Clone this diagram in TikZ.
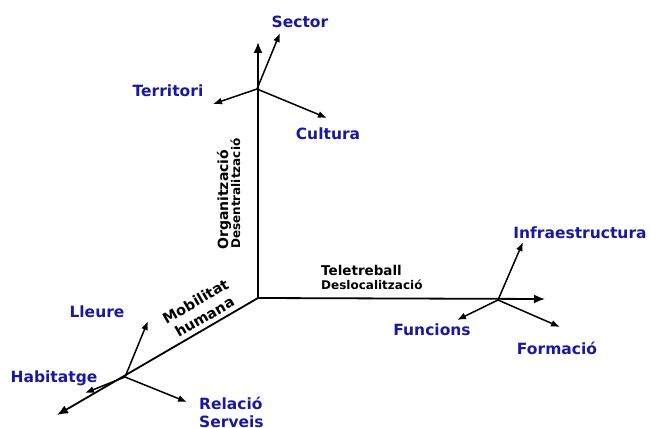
\documentclass[tikz,border=0pt]{standalone}
\usepackage{fontspec}
\setmainfont{DejaVu Sans}
\definecolor{labelBlue}{RGB}{25, 25, 160}
\usetikzlibrary{arrows.meta,positioning}

\begin{document}
\begin{tikzpicture}[x=1pt, y=-1pt,
    axis/.style={-{Latex[length=11pt,width=9pt]}, line width=1.8pt},
    factor/.style={-{Latex[length=9pt,width=7pt]}, line width=1.5pt},
    bluelabel/.style={font=\bfseries\fontsize{15.5}{18}\selectfont, text=labelBlue, inner sep=0pt},
    axislabel/.style={font=\bfseries\fontsize{12}{14}\selectfont, inner sep=0pt}]
    \useasboundingbox (0,0) rectangle (651,428);

    % main axes
    \coordinate (origin) at (258,298);
    \coordinate (upTip) at (258,42);
    \coordinate (rightTip) at (545,299);
    \coordinate (diagTip) at (57,415);
    \draw[axis] (origin) -- (upTip);
    \draw[axis] (origin) -- (rightTip);
    \draw[axis] (origin) -- (diagTip);

    % top frame
    \coordinate (topC) at (257,89);
    \coordinate (sectorTip) at (280,33);
    \coordinate (territoriTip) at (213,104);
    \coordinate (culturaTip) at (327,118);
    \node[bluelabel] (sector) at (300,22) {Sector};
    \node[bluelabel] (territori) at (168,91) {Territori};
    \node[bluelabel] (cultura) at (328,134) {Cultura};
    \draw[factor] (topC) -- (sectorTip);
    \draw[factor] (topC) -- (territoriTip);
    \draw[factor] (topC) -- (culturaTip);

    % right frame
    \coordinate (rightC) at (498,300);
    \coordinate (infraTip) at (523,242);
    \coordinate (funcionsTip) at (457,320);
    \coordinate (formacioTip) at (560,327);
    \node[bluelabel] (infra) at (580,233) {Infraestructura};
    \node[bluelabel] (funcions) at (432,330) {Funcions};
    \node[bluelabel] (formacio) at (557,348) {Formació};
    \draw[factor] (rightC) -- (infraTip);
    \draw[factor] (rightC) -- (funcionsTip);
    \draw[factor] (rightC) -- (formacioTip);

    % bottom-left frame
    \coordinate (leftC) at (125,377);
    \coordinate (lleureTip) at (148,321);
    \coordinate (habitatgeTip) at (85,393);
    \coordinate (relacioTip) at (187,402);
    \node[bluelabel] (lleure) at (97,312) {Lleure};
    \node[bluelabel] (habitatge) at (54,378) {Habitatge};
    \node[bluelabel, align=left, anchor=north west] (relacio) at (199,397) {Relació\\Serveis};
    \draw[factor] (leftC) -- (lleureTip);
    \draw[factor] (leftC) -- (habitatgeTip);
    \draw[factor] (leftC) -- (relacioTip);

    % axis labels
    \node[axislabel, font=\bfseries\fontsize{14}{16}\selectfont, rotate=90, anchor=base west] (organitzacio) at (228,250) {Organització};
    \node[axislabel, rotate=90, anchor=base west] (desentral) at (240,249) {Desentralització};
    \node[axislabel, font=\bfseries\fontsize{13.5}{16}\selectfont, anchor=base west] (teletreball) at (321,275) {Teletreball};
    \node[axislabel, anchor=base west] (desloc) at (321,289) {Deslocalització};
    \node[axislabel, font=\bfseries\fontsize{14.5}{18}\selectfont, rotate=30, align=center] (mobilitat) at (200,309) {Mobilitat\\humana};
\end{tikzpicture}
\end{document}
